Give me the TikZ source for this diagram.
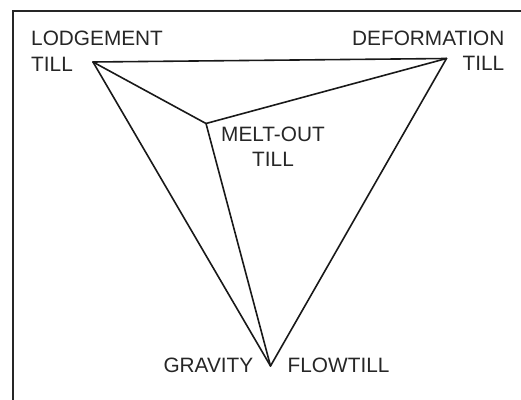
\documentclass[tikz,border=0pt]{standalone}
\usepackage{fontspec}
\setmainfont{Liberation Sans}
\begin{document}
\begin{tikzpicture}[x=1pt,y=1pt,
  lbl/.style={font=\fontsize{20.8}{25}\selectfont, text=black!85, inner sep=0pt},
  edge/.style={line width=1.6pt, black!90, line cap=round, line join=round},
  frame/.style={line width=2.4pt, black!85}]
\useasboundingbox (0,0) rectangle (521,399);
\draw[frame] (13,-2) -- (13,388) -- (523,388);
\coordinate (L) at (93,337);
\coordinate (D) at (446.5,340.5);
\coordinate (M) at (206,275.5);
\coordinate (G) at (270.5,33);
\draw[edge] (L) -- (D);
\draw[edge] (L) -- (M);
\draw[edge] (L) -- (G);
\draw[edge] (D) -- (M);
\draw[edge] (D) -- (G);
\draw[edge] (M) -- (G);
\node[lbl, anchor=base west] (l1) at (31,353) {LODGEMENT};
\node[lbl, anchor=base west] (l2) at (31,327.5) {TILL};
\node[lbl, anchor=base east] (d1) at (504.5,353) {DEFORMATION};
\node[lbl, anchor=base east] (d2) at (504.5,328) {TILL};
\node[lbl, anchor=base] (m1) at (273,257.5) {MELT-OUT};
\node[lbl, anchor=base] (m2) at (273,232.5) {TILL};
\node[lbl, anchor=base east] (g) at (253.5,26.5) {GRAVITY};
\node[lbl, anchor=base west] (f) at (287.5,26.5) {FLOWTILL};
\end{tikzpicture}
\end{document}
